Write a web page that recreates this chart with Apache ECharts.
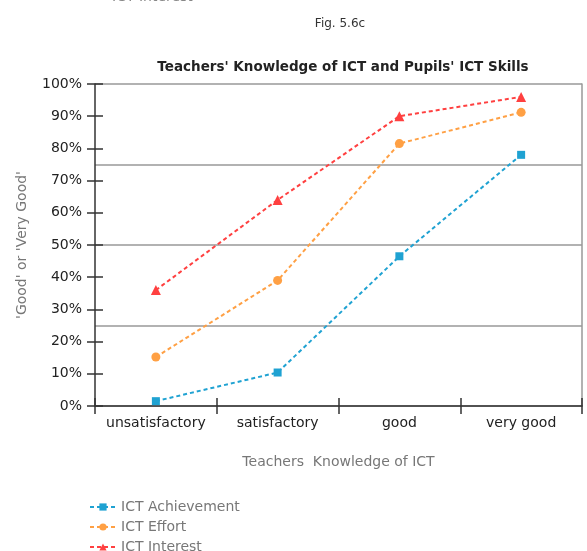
<!DOCTYPE html>
<html>
<head>
<meta charset="utf-8">
<script src="https://cdn.jsdelivr.net/npm/echarts@6/dist/echarts.min.js"></script>
<style>html,body{margin:0;padding:0;background:#fff;}#c{width:587px;height:551px;}</style>
</head>
<body>
<div id="c"></div>
<script>
var categories = ['unsatisfactory', 'satisfactory', 'good', 'very good'];
var achievement = [1.5, 10.4, 46.5, 78];
var effort = [15.2, 39, 81.5, 91.2];
var interest = [36, 64, 90, 96];
var seriesNames = ['ICT Achievement', 'ICT Effort', 'ICT Interest'];

var chart = echarts.init(document.getElementById('c'));
var font = '"DejaVu Sans", sans-serif';
function leg(name, top) {
  return {orient: 'vertical', left: 84, top: top, itemWidth: 26, itemHeight: 9,
    textStyle: {color: '#777', fontSize: 14, fontFamily: font}, data: [name]};
}
chart.setOption({
  animation: false,
  backgroundColor: '#fff',
  textStyle: {fontFamily: font},
  title: [
    {text: 'Fig. 5.6c', left: 335, top: 13, textAlign: 'center', textStyle: {fontSize: 12, fontWeight: 'normal', color: '#333', fontFamily: font}},
    {text: "Teachers' Knowledge of ICT and Pupils' ICT Skills", left: 338, top: 55, textAlign: 'center', textStyle: {fontSize: 13.5, fontWeight: 'bold', color: '#222', fontFamily: font}}
  ],
  graphic: [
    {type: 'text', left: 112, top: -10, style: {text: 'ICT Interest', fill: '#888', font: '14px "DejaVu Sans", sans-serif'}}
  ],
  legend: [leg(seriesNames[0], 495), leg(seriesNames[1], 515), leg(seriesNames[2], 535)],
  grid: {left: 95, right: 5, top: 84, bottom: 145, containLabel: false},
  xAxis: [
    {type: 'category', data: categories, boundaryGap: true,
     axisLine: {lineStyle: {color: '#333', width: 1.5}},
     axisTick: {show: true, length: 8, alignWithLabel: false, lineStyle: {color: '#333', width: 1.5}},
     axisLabel: {interval: 0, color: '#222', fontSize: 14, margin: 10, fontFamily: font},
     name: 'Teachers  Knowledge of ICT', nameLocation: 'middle', nameGap: 49,
     nameTextStyle: {color: '#777', fontSize: 14, fontFamily: font}},
    {type: 'category', data: categories, boundaryGap: true, position: 'bottom',
     axisLine: {show: false},
     axisTick: {show: true, inside: true, length: 8, lineStyle: {color: '#333', width: 1.5}},
     axisLabel: {show: false}}
  ],
  yAxis: [
    {type: 'value', min: 0, max: 100, interval: 10,
     axisLine: {show: true, lineStyle: {color: '#333', width: 1.5}},
     axisTick: {show: true, length: 8, lineStyle: {color: '#333', width: 1.5}},
     axisLabel: {formatter: '{value}%', color: '#222', fontSize: 14, margin: 13, fontFamily: font},
     splitLine: {show: false},
     name: "'Good' or 'Very Good'", nameLocation: 'middle', nameGap: 66, nameRotate: 90,
     nameTextStyle: {color: '#777', fontSize: 14, fontFamily: font}},
    {type: 'value', min: 0, max: 100, interval: 10, position: 'left',
     axisLine: {show: false},
     axisTick: {show: true, inside: true, length: 8, lineStyle: {color: '#333', width: 1.5}},
     axisLabel: {show: false}, splitLine: {show: false}},
    {type: 'value', min: 0, max: 100, interval: 25, position: 'right',
     axisLine: {show: true, lineStyle: {color: '#999', width: 1.5}},
     axisTick: {show: false}, axisLabel: {show: false},
     splitLine: {show: true, lineStyle: {color: '#999', width: 1.5}}}
  ],
  series: [
    {name: seriesNames[0], type: 'line', data: achievement, symbol: 'rect', symbolSize: 8,
     itemStyle: {color: '#1fa2d2'}, lineStyle: {type: [4, 3], width: 2, color: '#1fa2d2'}, z: 3},
    {name: seriesNames[1], type: 'line', data: effort, symbol: 'circle', symbolSize: 9,
     itemStyle: {color: '#ffa044'}, lineStyle: {type: [4, 3], width: 2, color: '#ffa044'}, z: 3},
    {name: seriesNames[2], type: 'line', data: interest, symbol: 'triangle', symbolSize: 10,
     itemStyle: {color: '#ff4040'}, lineStyle: {type: [4, 3], width: 2, color: '#ff4040'}, z: 3}
  ]
});
</script>
</body>
</html>
